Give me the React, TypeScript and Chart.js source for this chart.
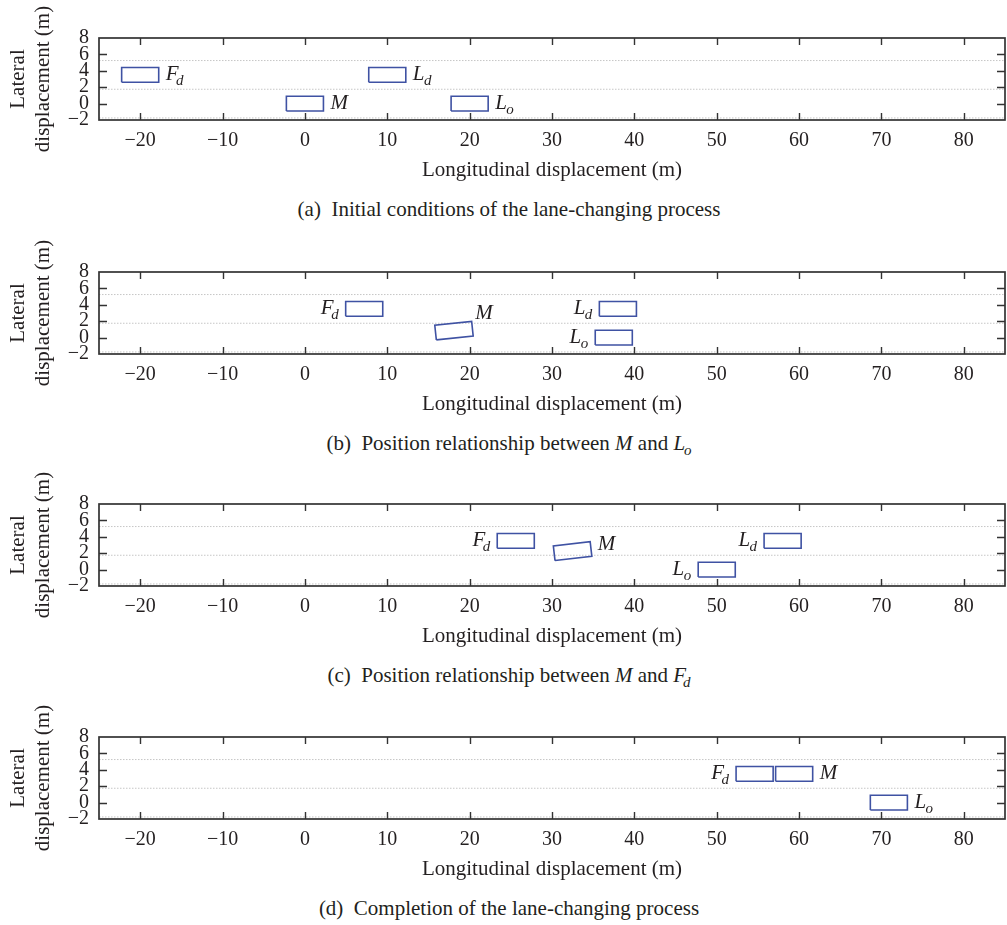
import React, { useEffect, useRef } from "react";
import { Chart, registerables } from "chart.js";

Chart.register(...registerables);

// ---------------- Data ----------------
const xTickValues = [-20, -10, 0, 10, 20, 30, 40, 50, 60, 70, 80];
const yTickValues = [-2, 0, 2, 4, 6, 8];
const xRange = [-25, 85];
const yRange = [-2, 8];
const laneMarkings = [-1.75, 1.75, 5.25];
const vehicleSize = [4.5, 1.8]; // length, width (m)

// (a) Initial conditions
const namesA = ["F", "M", "L", "L"];
const subsA = ["d", "", "d", "o"];
const xA = [-20, 0, 10, 20];
const yA = [3.5, 0, 3.5, 0];
const headingA = [0, 0, 0, 0];

// (b) M and L_o
const namesB = ["F", "M", "L", "L"];
const subsB = ["d", "", "d", "o"];
const xB = [7.2, 18.1, 38, 37.5];
const yB = [3.5, 0.85, 3.5, 0];
const headingB = [0, 6, 0, 0];

// (c) M and F_d
const namesC = ["F", "M", "L", "L"];
const subsC = ["d", "", "o", "d"];
const xC = [25.6, 32.5, 50, 58];
const yC = [3.5, 2.25, 0, 3.5];
const headingC = [0, 6.5, 0, 0];

// (d) Completion
const namesD = ["F", "M", "L"];
const subsD = ["d", "", "o"];
const xD = [54.6, 59.4, 70.9];
const yD = [3.5, 3.5, 0];
const headingD = [0, 0, 0];

// ---------------- Layout / style ----------------
const FONT = "'Liberation Serif', 'DejaVu Serif', serif";
const TEXT = "#231f20";
const BOX = "#3f52a3";
const FRAME = "#333333";
const LANE = "#c6c6c6";
const PAD_TOP = 38;
const CANVAS_W = 1007;
const X_AXIS_H = 63;
const PLOT_H = 82;
const CANVAS_H = PAD_TOP + PLOT_H + X_AXIS_H;
const panelTops = [38, 272, 504, 737];
const sidesA = ["right", "right", "right", "right"];
const sidesB = ["left", "above", "left", "left"];
const sidesC = ["left", "righttop", "left", "left"];
const sidesD = ["left", "right", "right"];

function fmt(v: number) {
  return v < 0 ? "\u2212" + Math.abs(v) : String(v);
}

function corners(cx: number, cy: number, hdeg: number) {
  const [L, W] = vehicleSize;
  const a = (hdeg * Math.PI) / 180;
  const c = Math.cos(a);
  const s = Math.sin(a);
  const pts = [
    [-L / 2, -W / 2],
    [L / 2, -W / 2],
    [L / 2, W / 2],
    [-L / 2, W / 2],
    [-L / 2, -W / 2],
  ];
  return pts.map(([u, v]) => ({ x: cx + u * c - v * s, y: cy + u * s + v * c }));
}

type PanelDef = {
  names: string[];
  subs: string[];
  xs: number[];
  ys: number[];
  heads: number[];
  sides: string[];
};

const framePlugin = {
  id: "frame",
  afterDraw(chart: any) {
    const { ctx, chartArea } = chart;
    const { left, right, top, bottom } = chartArea;
    const xs = chart.scales.x;
    const ys = chart.scales.y;
    ctx.save();
    ctx.strokeStyle = FRAME;
    ctx.lineWidth = 1.4;
    ctx.beginPath();
    xTickValues.forEach((v) => {
      const px = Math.round(xs.getPixelForValue(v)) + 0.5;
      ctx.moveTo(px, bottom);
      ctx.lineTo(px, bottom - 7);
      ctx.moveTo(px, top);
      ctx.lineTo(px, top + 7);
    });
    yTickValues
      .filter((v) => v > yRange[0] && v < yRange[1])
      .forEach((v) => {
        const py = Math.round(ys.getPixelForValue(v)) + 0.5;
        ctx.moveTo(left, py);
        ctx.lineTo(left + 8, py);
        ctx.moveTo(right, py);
        ctx.lineTo(right - 8, py);
      });
    ctx.stroke();
    ctx.lineWidth = 1.7;
    ctx.strokeRect(left, top, right - left, bottom - top);
    ctx.restore();
  },
};

function makeLabelPlugin(p: PanelDef) {
  return {
    id: "vehicleLabels",
    afterDatasetsDraw(chart: any) {
      const { ctx } = chart;
      const xs = chart.scales.x;
      const ys = chart.scales.y;
      ctx.save();
      ctx.fillStyle = TEXT;
      ctx.textBaseline = "alphabetic";
      ctx.textAlign = "left";
      p.xs.forEach((cx, i) => {
        const pts = corners(cx, p.ys[i], p.heads[i]).map((q) => ({
          x: xs.getPixelForValue(q.x),
          y: ys.getPixelForValue(q.y),
        }));
        const minX = Math.min(...pts.map((q) => q.x));
        const maxX = Math.max(...pts.map((q) => q.x));
        const minY = Math.min(...pts.map((q) => q.y));
        const cyPx = ys.getPixelForValue(p.ys[i]);
        const mainFont = `italic 21px ${FONT}`;
        const subFont = `italic 15px ${FONT}`;
        ctx.font = mainFont;
        const mw = ctx.measureText(p.names[i]).width;
        ctx.font = subFont;
        const sw = p.subs[i] ? ctx.measureText(p.subs[i]).width : 0;
        const subGap = p.names[i] === "F" ? -2.5 : -0.5;
        const total = mw + sw + (p.subs[i] ? subGap : 0);
        const capHalf = 7;
        let x0 = maxX + 7;
        let base = cyPx + capHalf - 1.5;
        const side = p.sides[i];
        if (side === "left") {
          x0 = minX - 7 - total;
        } else if (side === "above") {
          x0 = maxX + 2;
          base = minY - 9 + capHalf;
        } else if (side === "righttop") {
          x0 = maxX + 6;
          base = minY + 1 + capHalf;
        }
        ctx.font = mainFont;
        ctx.fillText(p.names[i], x0, base);
        if (p.subs[i]) {
          ctx.font = subFont;
          ctx.fillText(p.subs[i], x0 + mw + subGap, base + 5);
        }
      });
      ctx.restore();
    },
  };
}

function PanelChart({ p, top }: { p: PanelDef; top: number }) {
  const ref = useRef<HTMLCanvasElement>(null);
  useEffect(() => {
    const canvas = ref.current;
    if (!canvas) return;
    const datasets: any[] = [];
    p.xs.forEach((cx, i) => {
      datasets.push({
        data: corners(cx, p.ys[i], p.heads[i]),
        showLine: true,
        borderColor: BOX,
        borderWidth: 1.6,
        pointRadius: 0,
        fill: false,
        tension: 0,
        order: 0,
      });
    });
    laneMarkings.forEach((y) => {
      datasets.push({
        data: [
          { x: xRange[0], y },
          { x: xRange[1], y },
        ],
        showLine: true,
        borderColor: LANE,
        borderWidth: 1,
        borderDash: [1.5, 1.5],
        pointRadius: 0,
        fill: false,
        order: 1,
      });
    });
    const chart = new Chart(canvas, {
      type: "scatter",
      data: { datasets },
      options: {
        responsive: false,
        animation: false,
        devicePixelRatio: 1,
        events: [],
        layout: { padding: { top: PAD_TOP, left: 0, right: 2, bottom: 0 } },
        plugins: { legend: { display: false }, tooltip: { enabled: false } },
        scales: {
          x: {
            type: "linear",
            min: xRange[0],
            max: xRange[1],
            grid: { display: false, drawTicks: false },
            border: { display: false },
            afterBuildTicks: (s: any) => {
              s.ticks = xTickValues.map((v) => ({ value: v }));
            },
            afterFit: (s: any) => {
              s.height = X_AXIS_H;
            },
            ticks: {
              padding: 9,
              color: TEXT,
              autoSkip: false,
              maxRotation: 0,
              font: { family: FONT, size: 20 },
              callback: (v: any) => fmt(Number(v)),
            },
            title: {
              display: true,
              text: "Longitudinal displacement (m)",
              color: TEXT,
              font: { family: FONT, size: 21, lineHeight: 1.2 },
              padding: { top: 0, bottom: 0 },
            },
          },
          y: {
            type: "linear",
            min: yRange[0],
            max: yRange[1],
            grid: { display: false, drawTicks: false },
            border: { display: false },
            afterBuildTicks: (s: any) => {
              s.ticks = yTickValues.map((v) => ({ value: v }));
            },
            afterFit: (s: any) => {
              s.width = 99;
            },
            ticks: {
              padding: 10,
              color: TEXT,
              autoSkip: false,
              font: { family: FONT, size: 20, lineHeight: 1 },
              callback: (v: any) => fmt(Number(v)),
            },
            title: {
              display: true,
              text: ["Lateral", "displacement (m)"],
              color: TEXT,
              font: { family: FONT, size: 21, lineHeight: 1.2 },
              padding: { top: 6, bottom: 0 },
            },
          },
        },
      } as any,
      plugins: [framePlugin, makeLabelPlugin(p)],
    });
    return () => chart.destroy();
  }, []);
  return (
    <canvas
      ref={ref}
      width={CANVAS_W}
      height={CANVAS_H}
      style={{ position: "absolute", left: 0, top: top - PAD_TOP, width: CANVAS_W, height: CANVAS_H, display: "block" }}
    />
  );
}

const subStyle: React.CSSProperties = { fontSize: 15, verticalAlign: -5, lineHeight: 0, marginLeft: -1 };

function Caption({ top, children }: { top: number; children: React.ReactNode }) {
  return (
    <div
      style={{
        position: "absolute",
        left: 0,
        width: 1018,
        top: top + 159,
        textAlign: "center",
        fontFamily: FONT,
        fontSize: 21,
        lineHeight: "24px",
        color: TEXT,
        whiteSpace: "pre",
      }}
    >
      {children}
    </div>
  );
}

export default function App() {
  const panels: PanelDef[] = [
    { names: namesA, subs: subsA, xs: xA, ys: yA, heads: headingA, sides: sidesA },
    { names: namesB, subs: subsB, xs: xB, ys: yB, heads: headingB, sides: sidesB },
    { names: namesC, subs: subsC, xs: xC, ys: yC, heads: headingC, sides: sidesC },
    { names: namesD, subs: subsD, xs: xD, ys: yD, heads: headingD, sides: sidesD },
  ];
  return (
    <div style={{ position: "absolute", left: 0, top: 0, width: 1007, height: 925, background: "#fff" }}>
      {panels.map((p, i) => (
        <PanelChart key={i} p={p} top={panelTops[i]} />
      ))}
      <Caption top={panelTops[0]}>{"(a)  Initial conditions of the lane-changing process"}</Caption>
      <Caption top={panelTops[1]}>
        {"(b)  Position relationship between "}
        <i>M</i>
        {" and "}
        <i>L</i>
        <sub style={subStyle}>
          <i>o</i>
        </sub>
      </Caption>
      <Caption top={panelTops[2]}>
        {"(c)  Position relationship between "}
        <i>M</i>
        {" and "}
        <i>F</i>
        <sub style={{ ...subStyle, marginLeft: -3 }}>
          <i>d</i>
        </sub>
      </Caption>
      <Caption top={panelTops[3]}>{"(d)  Completion of the lane-changing process"}</Caption>
    </div>
  );
}
